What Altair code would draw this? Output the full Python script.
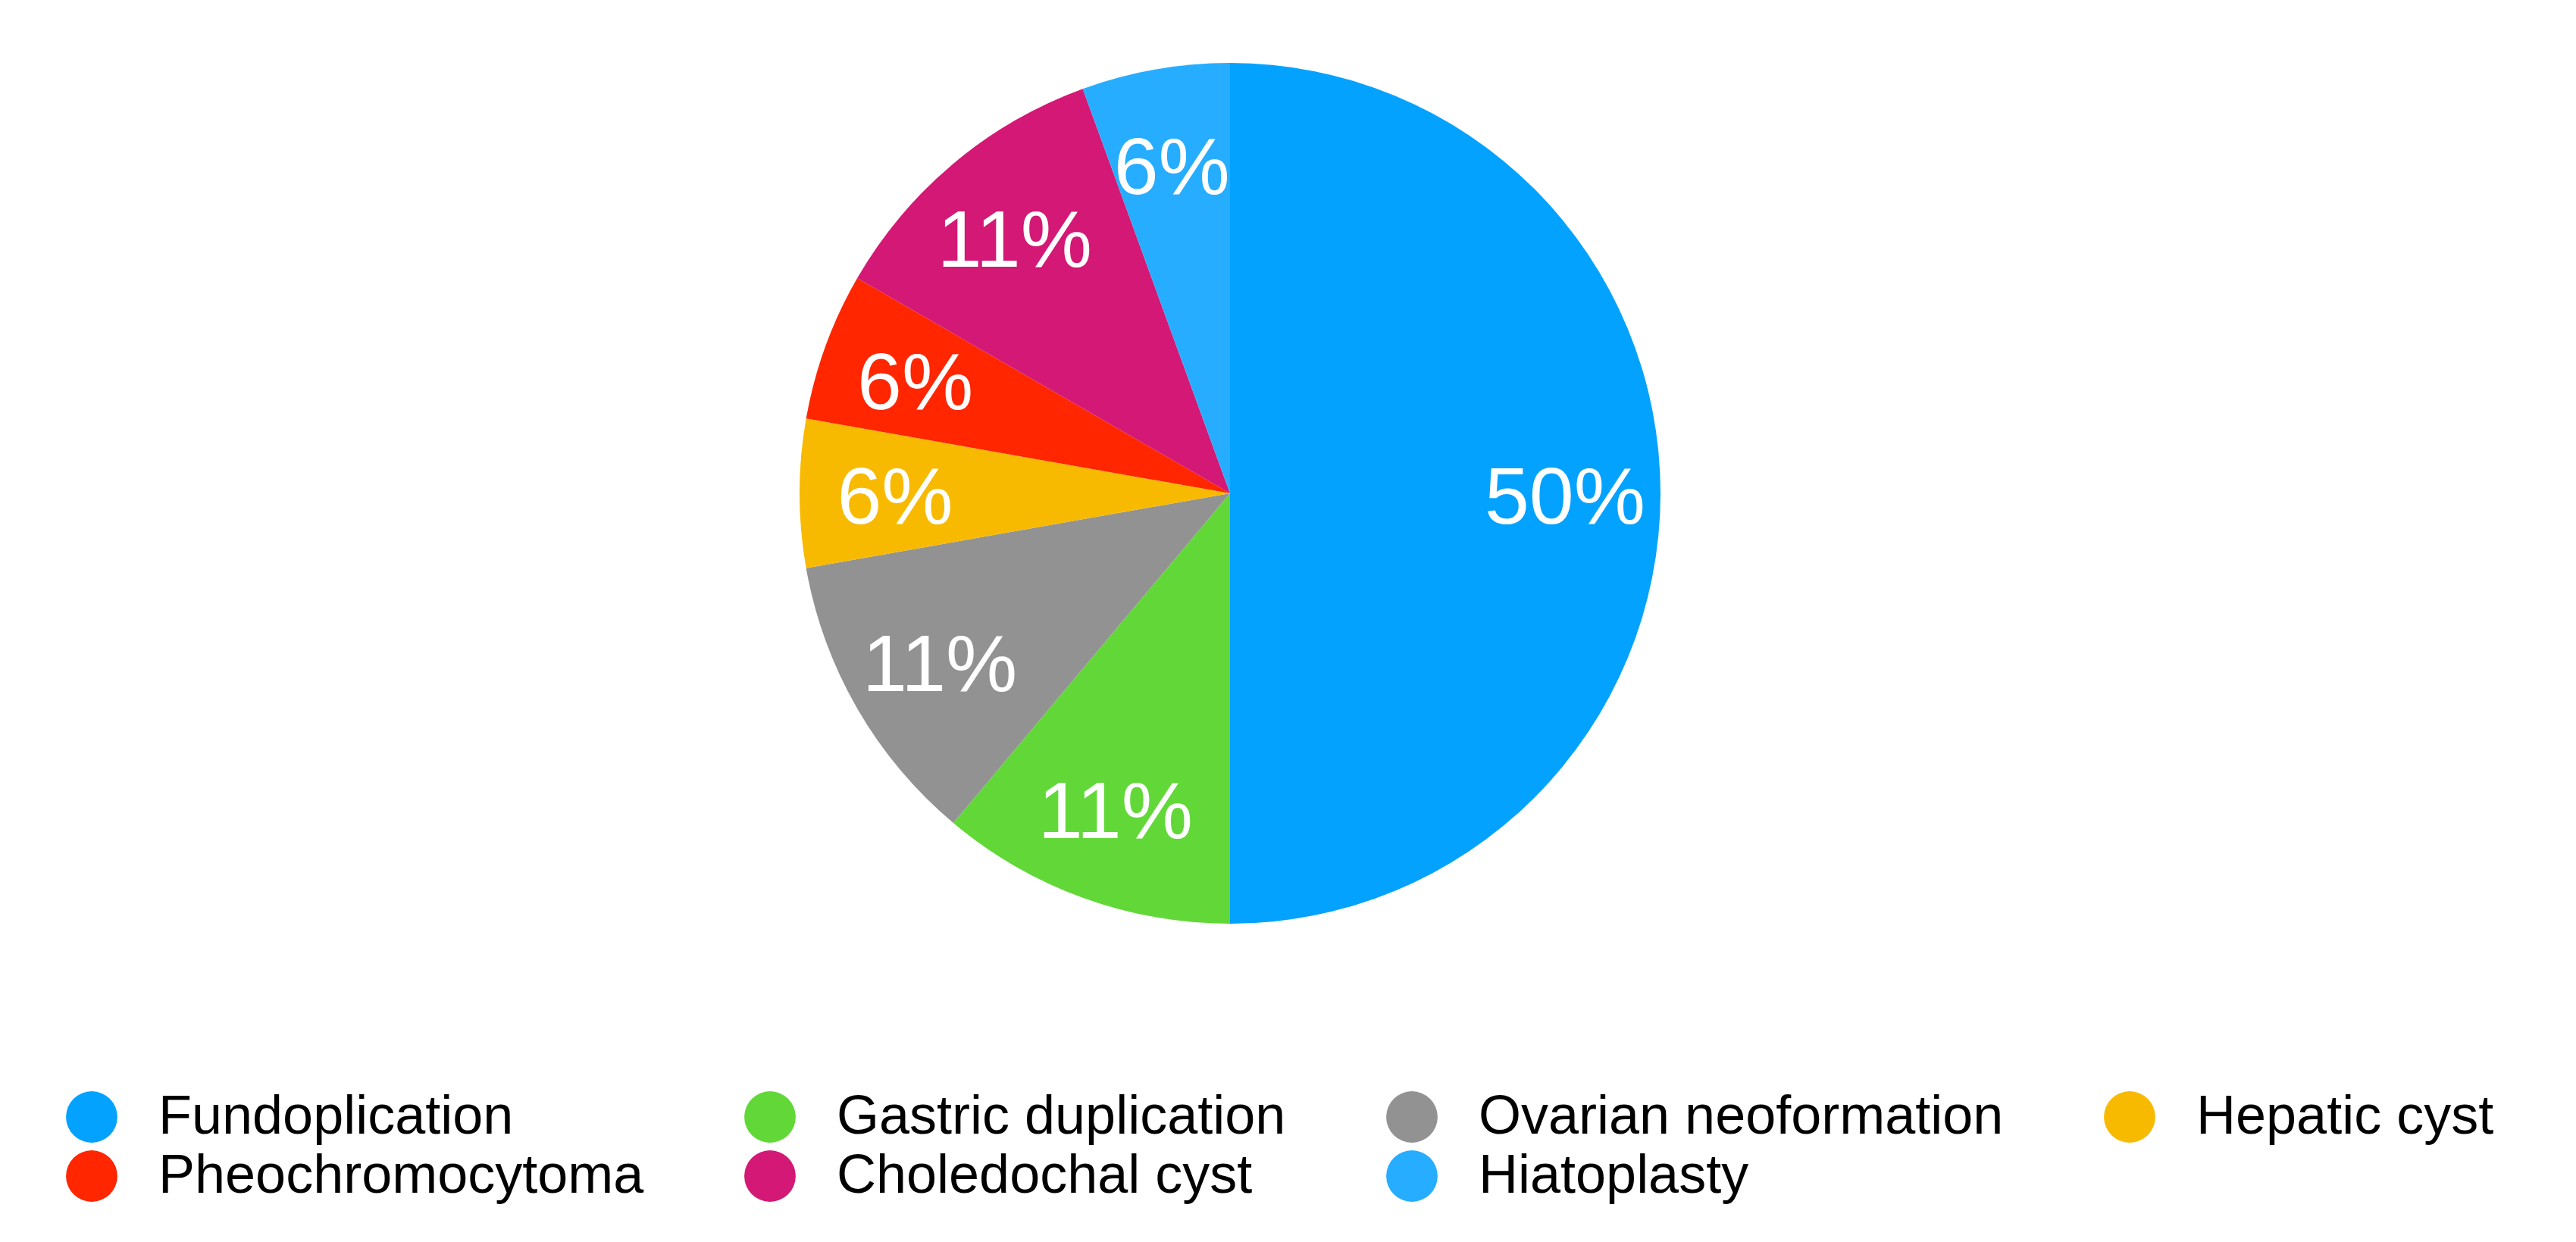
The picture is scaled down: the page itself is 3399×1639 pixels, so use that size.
import altair as alt
import pandas as pd

categories = ["Fundoplication", "Gastric duplication", "Ovarian neoformation", "Hepatic cyst",
              "Pheochromocytoma", "Choledochal cyst", "Hiatoplasty"]
counts = [9, 2, 2, 1, 1, 2, 1]
colors = ["#03A2FF", "#62D838", "#929292", "#F8BA00", "#FF2600", "#D31876", "#26ADFF"]

total = sum(counts)
df = pd.DataFrame({
    "category": categories,
    "count": counts,
    "order": list(range(len(categories))),
    "label": [f"{round(100 * c / total)}%" for c in counts],
})

CX, CY, R = 1615, 643, 568

base = alt.Chart(df).encode(
    theta=alt.Theta("count:Q", stack=True),
    order=alt.Order("order:Q"),
)

pie = base.mark_arc(outerRadius=R, stroke=None).encode(
    x=alt.value(CX),
    y=alt.value(CY),
    color=alt.Color(
        "category:N",
        scale=alt.Scale(domain=categories, range=colors),
        sort=categories,
        legend=alt.Legend(
            title=None,
            orient="none",
            legendX=77,
            legendY=1430,
            direction="horizontal",
            columns=4,
            symbolType="circle",
            symbolSize=4600,
            symbolStrokeWidth=0,
            labelFont="Liberation Sans",
            labelFontSize=72,
            labelColor="#000000",
            labelOffset=52,
            labelLimit=2000,
            columnPadding=130,
            rowPadding=6,
            padding=0,
        ),
    ),
)

text = base.mark_text(
    radius=442,
    font="Liberation Sans",
    fontSize=106,
    color="white",
    align="center",
    baseline="middle",
    dy=8,
).encode(
    x=alt.value(CX),
    y=alt.value(CY),
    text="label:N",
)

chart = alt.layer(pie, text).properties(
    width=3383,
    height=1623,
    autosize=alt.AutoSizeParams(type="none"),
    padding=0,
).configure_view(stroke=None)

chart.save("out.html", embed_options={"renderer": "svg", "actions": False})
